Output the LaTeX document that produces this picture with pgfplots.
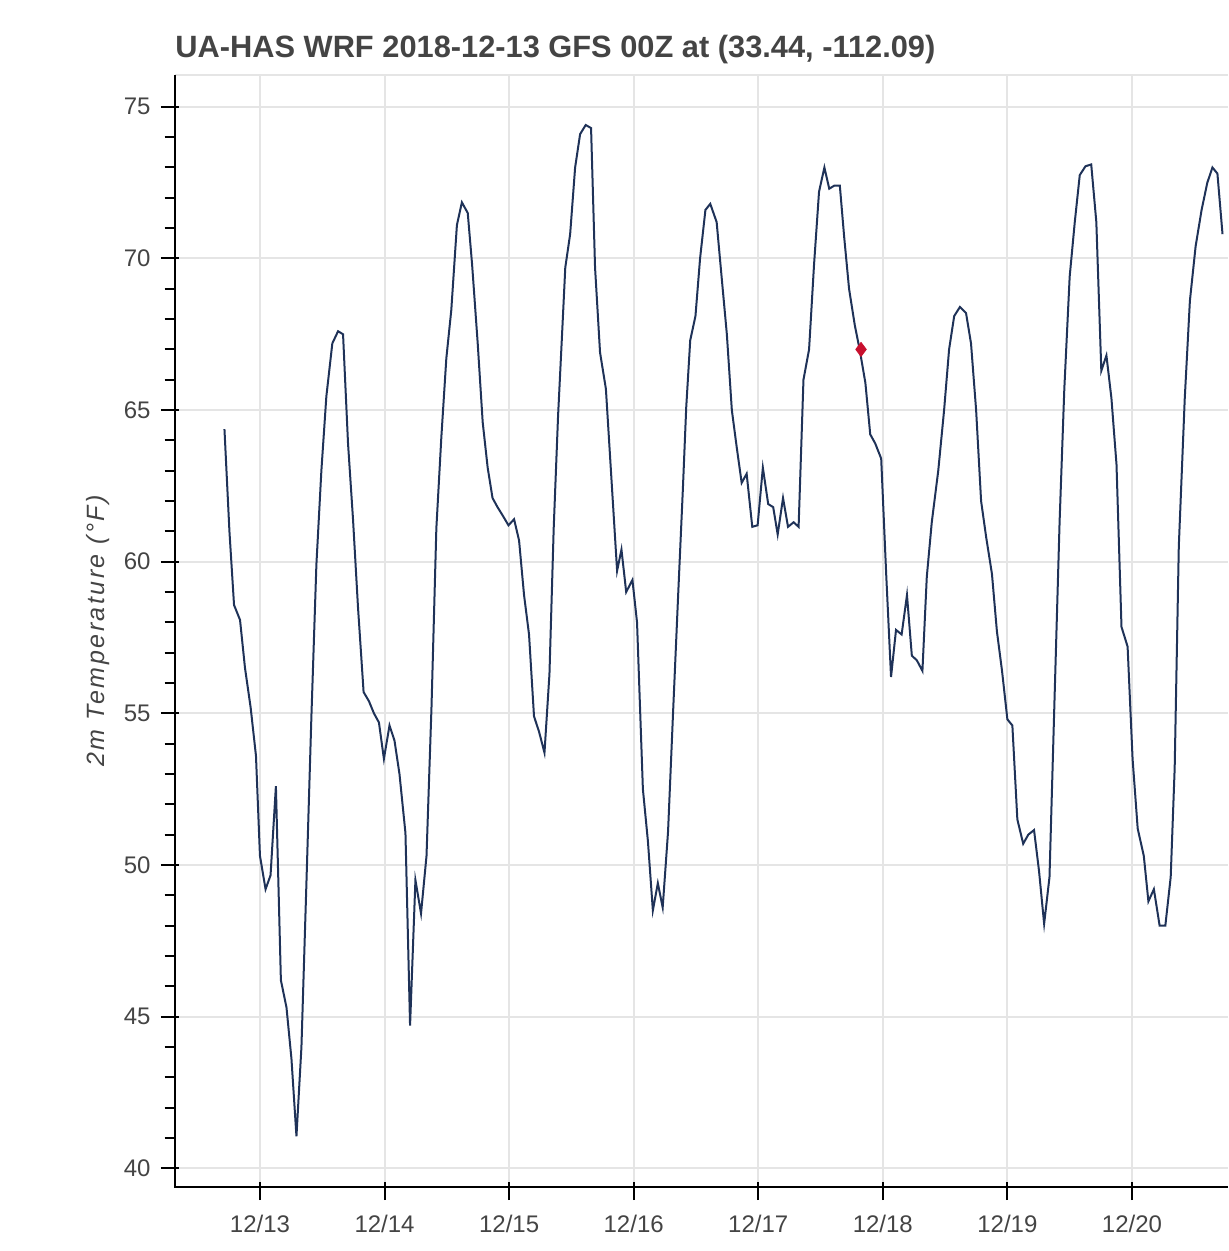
\documentclass[border=0pt]{standalone}
\usepackage{fontspec}
\setmainfont{Liberation Sans}
\newfontfamily\ylabfont[LetterSpace=10]{Liberation Sans}
\usepackage{pgfplots}
\pgfplotsset{compat=1.18}
\definecolor{linecol}{RGB}{31,50,88}
\definecolor{markcol}{RGB}{200,16,46}
\definecolor{txtgray}{RGB}{68,68,68}
\definecolor{gridgray}{RGB}{229,229,229}

\begin{document}
\begin{tikzpicture}
% page = 1228 x 1251 px at 0.5pt per px, axis south west at origin
\useasboundingbox (-87.5pt,-32pt) rectangle (526.5pt,593.5pt);
\begin{axis}[
    scale only axis,
    width=526.5pt,
    height=556pt,
    xmin=-0.682, xmax=7.771,
    ymin=39.38, ymax=76.05,
    xtick={0,1,2,3,4,5,6,7},
    xticklabels={12/13,12/14,12/15,12/16,12/17,12/18,12/19,12/20},
    ytick={40,45,50,55,60,65,70,75},
    minor y tick num=4,
    tick pos=left,
    tick align=center,
    major tick length=9pt,
    minor tick length=5.35pt,
    xtick style={black, line width=1pt, yshift=-2pt},
    ytick style={black, line width=1pt, xshift=-2.5pt},
    grid=major,
    major grid style={gridgray, line width=1pt},
    axis line style={draw=none},
    tick label style={font=\fontsize{12}{14}\selectfont, text=txtgray, inner sep=0pt},
    xticklabel style={yshift=-9.5pt},
    yticklabel style={xshift=-7.5pt},
    /pgf/number format/assume math mode=true,
    ylabel={\ylabfont\itshape 2m Temperature (°F)},
    every axis y label/.style={at={(axis description cs:-0.0731,0.5)}, rotate=90, anchor=center,
        font=\fontsize{12.5}{15}\selectfont, text=txtgray, inner sep=0pt},
    clip mode=individual,
]
\addplot[linecol, line width=1pt] coordinates {
(-0.285,64.37) (-0.245,61.0) (-0.208,58.57) (-0.16,58.08) (-0.12,56.49) (-0.075,55.2)
(-0.032,53.6) (0.0,50.3) (0.045,49.2) (0.085,49.66) (0.128,52.6) (0.168,46.2)
(0.213,45.3) (0.253,43.6) (0.293,41.05) (0.333,44.0) (0.373,49.4) (0.413,54.9)
(0.453,59.9) (0.493,63.0) (0.533,65.45) (0.581,67.2) (0.627,67.6) (0.667,67.5)
(0.707,63.9) (0.747,61.4) (0.787,58.5) (0.832,55.7) (0.875,55.4) (0.915,55.0)
(0.955,54.7) (0.995,53.5) (1.04,54.6) (1.08,54.1) (1.12,53.0) (1.168,51.05)
(1.205,44.7) (1.248,49.5) (1.293,48.4) (1.337,50.3) (1.377,55.2) (1.416,61.1)
(1.456,64.1) (1.496,66.7) (1.536,68.3) (1.581,71.1) (1.621,71.85) (1.668,71.5)
(1.703,69.8) (1.748,67.2) (1.788,64.6) (1.828,63.1) (1.867,62.1) (1.907,61.8)
(1.952,61.5) (1.995,61.2) (2.04,61.4) (2.08,60.7) (2.12,58.9) (2.16,57.6)
(2.2,54.9) (2.24,54.4) (2.284,53.7) (2.324,56.3) (2.358,61.1) (2.393,64.8)
(2.424,67.4) (2.451,69.7) (2.49,70.8) (2.53,73.0) (2.57,74.1) (2.615,74.4)
(2.658,74.3) (2.69,69.7) (2.73,66.9) (2.777,65.7) (2.822,62.7) (2.867,59.7)
(2.902,60.4) (2.94,59.0) (2.99,59.4) (3.027,58.0) (3.074,52.5) (3.114,50.8)
(3.154,48.5) (3.194,49.4) (3.233,48.6) (3.276,51.1) (3.316,55.0) (3.356,58.8)
(3.395,62.4) (3.422,65.1) (3.454,67.3) (3.496,68.1) (3.533,70.0) (3.576,71.6)
(3.615,71.8) (3.666,71.2) (3.708,69.3) (3.748,67.5) (3.788,65.0) (3.828,63.75)
(3.867,62.6) (3.907,62.9) (3.952,61.15) (3.995,61.2) (4.037,63.1) (4.08,61.9)
(4.12,61.8) (4.156,60.9) (4.199,62.1) (4.239,61.15) (4.284,61.3) (4.324,61.15)
(4.363,66.0) (4.408,67.0) (4.448,69.8) (4.488,72.2) (4.531,73.0) (4.57,72.3)
(4.61,72.4) (4.655,72.4) (4.69,70.7) (4.729,69.0) (4.775,67.8) (4.814,67.0)
(4.86,65.9) (4.899,64.2) (4.939,63.9) (4.987,63.4) (5.027,59.6) (5.066,56.2)
(5.106,57.75) (5.151,57.6) (5.194,58.9) (5.233,56.9) (5.273,56.75) (5.318,56.4)
(5.353,59.5) (5.393,61.3) (5.445,63.0) (5.492,65.0) (5.532,67.0) (5.573,68.1)
(5.619,68.4) (5.668,68.2) (5.708,67.2) (5.749,65.0) (5.789,62.0) (5.83,60.8)
(5.876,59.6) (5.916,57.7) (5.957,56.4) (6.0,54.8) (6.04,54.6) (6.08,51.5)
(6.127,50.7) (6.168,51.0) (6.214,51.15) (6.254,49.8) (6.295,48.06) (6.338,49.6)
(6.378,55.4) (6.419,61.3) (6.457,65.7) (6.5,69.4) (6.541,71.2) (6.581,72.75)
(6.627,73.04) (6.673,73.1) (6.714,71.2) (6.754,66.3) (6.795,66.8) (6.835,65.4)
(6.876,63.2) (6.916,57.85) (6.965,57.2) (7.005,53.5) (7.046,51.2) (7.095,50.3)
(7.132,48.8) (7.176,49.2) (7.222,48.0) (7.268,48.0) (7.311,49.6) (7.343,53.2)
(7.376,60.5) (7.424,65.4) (7.465,68.6) (7.511,70.4) (7.559,71.6) (7.605,72.5)
(7.646,73.0) (7.686,72.8) (7.727,70.8)
};
\addplot[only marks, mark=diamond*, mark size=3.5pt, color=markcol] coordinates {(4.825,67.0)};

% frame: dark left and bottom lines, light outline on top
\draw[gridgray, line width=1pt] (rel axis cs:0,1) -- (rel axis cs:1,1);
\draw[black, line width=1pt] (rel axis cs:0,1) -- (rel axis cs:0,0) -- (rel axis cs:1,0);
\end{axis}
\node[anchor=base west, inner sep=0pt, text=txtgray,
    font=\fontsize{15.4}{18}\selectfont\bfseries]
    at (0pt,564.85pt) {UA-HAS WRF 2018-12-13 GFS 00Z at (33.44, -112.09)};
\end{tikzpicture}
\end{document}
